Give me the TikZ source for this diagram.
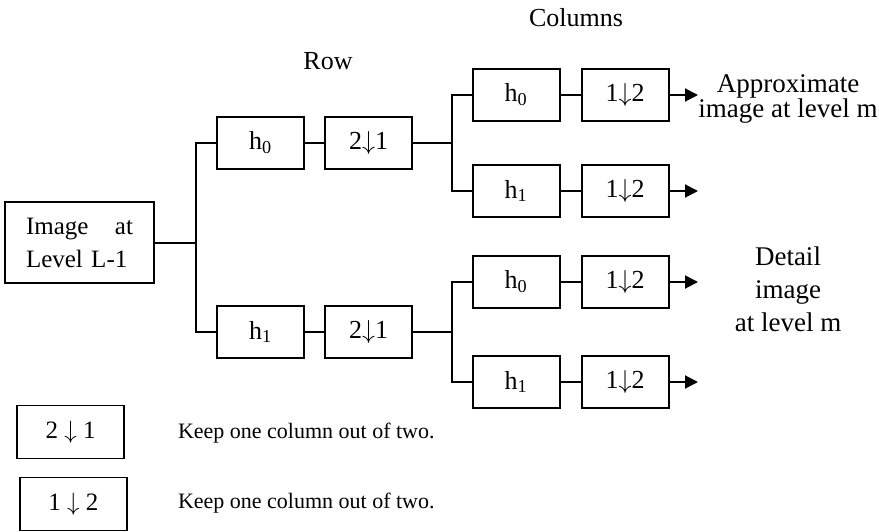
\documentclass[tikz,border=0pt]{standalone}
\usepackage{fix-cm}
\usepackage{fontspec}
\setmainfont{Liberation Serif}
\usetikzlibrary{arrows.meta}
\newcommand{\dn}{\ensuremath{\downarrow}}
\begin{document}
\begin{tikzpicture}[x=1pt,y=-1pt,
  line width=2pt,
  blk/.style={draw, line width=2pt, minimum width=87pt, minimum height=52pt, inner sep=0pt, font=\fontsize{26}{30}\selectfont},
  leg/.style={draw, line width=1.8pt, minimum width=107pt, minimum height=53pt, inner sep=0pt, font=\fontsize{25}{30}\selectfont},
  lbl/.style={inner sep=0pt, align=center},
  arr/.style={-{Triangle[length=13pt,width=13pt]}}]
\useasboundingbox (0,0) rectangle (879,531);
% input image
\node[draw, line width=2pt, minimum width=149pt, minimum height=81pt, inner sep=0pt,
      text width=107pt, align=left, font=\fontsize{25}{33}\selectfont] (img) at (79.5,242.5) {Image\hfill at\\\mbox{Level L-1}};
% row stage
\node[blk] (r0h) at (260.5,143) {h\textsubscript{0}};
\node[blk] (r0d) at (368.5,143) {2\dn1};
\node[blk] (r1h) at (260.5,332) {h\textsubscript{1}};
\node[blk] (r1d) at (368.5,332) {2\dn1};
% column stage
\node[blk] (c00h) at (516,95) {h\textsubscript{0}};
\node[blk] (c00d) at (625,95) {1\dn2};
\node[blk] (c01h) at (516,191) {h\textsubscript{1}};
\node[blk] (c01d) at (625,191) {1\dn2};
\node[blk] (c10h) at (516,282) {h\textsubscript{0}};
\node[blk] (c10d) at (625,282) {1\dn2};
\node[blk] (c11h) at (516,382) {h\textsubscript{1}};
\node[blk] (c11d) at (625,382) {1\dn2};
% split points and arrow ends
\coordinate (s0) at (196,242.5);
\coordinate (s1) at (452,143);
\coordinate (s2) at (452,332);
\coordinate (e00) at (698,95);
\coordinate (e01) at (698,191);
\coordinate (e10) at (698,282);
\coordinate (e11) at (698,382);
% connectors
\draw (img.east) -- (s0);
\draw (r0h.west) -| (s0) |- (r1h.west);
\draw (r0h) -- (r0d);
\draw (r1h) -- (r1d);
\draw (r0d.east) -- (s1);
\draw (r1d.east) -- (s2);
\draw (c00h.west) -| (s1) |- (c01h.west);
\draw (c10h.west) -| (s2) |- (c11h.west);
\draw (c00h) -- (c00d);
\draw (c01h) -- (c01d);
\draw (c10h) -- (c10d);
\draw (c11h) -- (c11d);
\draw[arr] (c00d.east) -- (e00);
\draw[arr] (c01d.east) -- (e01);
\draw[arr] (c10d.east) -- (e10);
\draw[arr] (c11d.east) -- (e11);
% labels
\node[lbl, font=\fontsize{26}{30}\selectfont] (tcol) at (576,18) {Columns};
\node[lbl, font=\fontsize{26}{30}\selectfont] (trow) at (328,61) {Row};
\node[lbl, font=\fontsize{27}{25}\selectfont] (tapp) at (788,99) {Approximate\\image at level m};
\node[lbl, font=\fontsize{27}{33}\selectfont] (tdet) at (788,289) {Detail\\image\\at level m};
% legend
\node[leg] (l1) at (70.5,432) {2 \dn{} 1};
\node[leg] (l2) at (73.5,504) {1 \dn{} 2};
\node[anchor=west, inner sep=0pt, font=\fontsize{22}{26}\selectfont] (t1) at (177,433) {Keep one column out of two.};
\node[anchor=west, inner sep=0pt, font=\fontsize{22}{26}\selectfont] (t2) at (177,503) {Keep one column out of two.};
\end{tikzpicture}
\end{document}
